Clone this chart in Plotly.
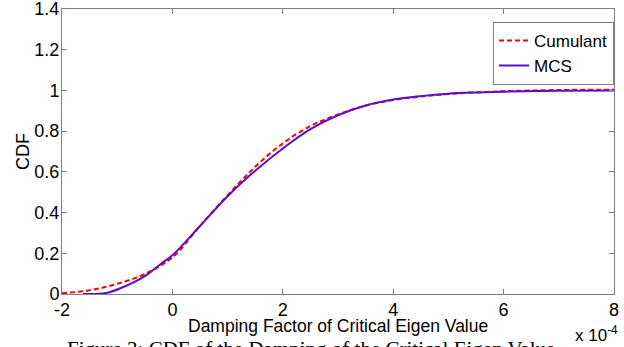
import plotly.graph_objects as go

# Damping factor (units of 1e-4) and CDF values
cum_x = [-2.0, -1.5, -1.0, -0.5, 0.0, 0.5, 1.0, 1.5, 2.0, 2.5, 3.0, 3.5, 4.0, 4.5, 5.0, 5.5, 6.0, 7.0, 8.0]
cum_y = [0.004, 0.018, 0.050, 0.098, 0.180, 0.334, 0.485, 0.625, 0.740, 0.825, 0.882, 0.925, 0.953, 0.970, 0.982, 0.990, 0.996, 1.002, 1.004]

mcs_x = [-1.62, -1.2, -0.9, -0.5, -0.2, 0.0, 0.5, 1.0, 1.5, 2.0, 2.5, 3.0, 3.5, 4.0, 4.5, 5.0, 5.5, 6.0, 7.0, 8.0]
mcs_y = [0.0, 0.005, 0.033, 0.088, 0.150, 0.190, 0.334, 0.480, 0.605, 0.715, 0.810, 0.878, 0.926, 0.955, 0.972, 0.984, 0.990, 0.994, 0.998, 1.000]

x_ticks = [-2, 0, 2, 4, 6, 8]
y_ticks = [0, 0.2, 0.4, 0.6, 0.8, 1, 1.2, 1.4]
y_tick_text = ["0", "0.2", "0.4", "0.6", "0.8", "1", "1.2", "1.4"]

FONT = "Arial, Liberation Sans, sans-serif"

fig = go.Figure()
fig.add_trace(go.Scatter(x=cum_x, y=cum_y, mode="lines", name="Cumulant",
                         line=dict(color="#FF0000", width=2, dash="5px,3px", shape="spline")))
fig.add_trace(go.Scatter(x=mcs_x, y=mcs_y, mode="lines", name="MCS",
                         line=dict(color="#5A0FC8", width=2, shape="spline")))

axis_common = dict(showline=True, linecolor="#808080", linewidth=1, mirror="ticks",
                   ticks="inside", ticklen=5, tickcolor="#808080", showgrid=False,
                   zeroline=False, automargin=False, ticklabeloverflow="allow",
                   tickfont=dict(family=FONT, size=18, color="black"))

fig.update_xaxes(range=[-2, 8], tickvals=x_ticks, ticktext=[str(v) for v in x_ticks],
                 ticklabelstandoff=-1, **axis_common)
fig.update_yaxes(range=[0, 1.4], tickvals=y_ticks, ticktext=y_tick_text,
                 ticklabelstandoff=-2,
                 title=dict(text="CDF", font=dict(family=FONT, size=18, color="black"), standoff=0),
                 **axis_common)

# x-axis title
fig.add_annotation(xref="paper", yref="paper", x=0.5, y=-0.111, xanchor="center", yanchor="middle",
                   text="Damping Factor of Critical Eigen Value", showarrow=False,
                   font=dict(family=FONT, size=17.5, color="black"))
fig.add_annotation(xref="paper", yref="paper", x=1.01, y=-0.095, xanchor="right", yanchor="top",
                   text="x 10<sup>-4</sup>", showarrow=False,
                   font=dict(family=FONT, size=17, color="black"))
fig.add_annotation(xref="paper", yref="paper", x=0.005, y=-0.145, xanchor="left", yanchor="top",
                   text="Figure 3: CDF of the Damping of the Critical Eigen Value", showarrow=False,
                   font=dict(family="Liberation Serif, Times New Roman, serif", size=21, color="black"))

fig.update_layout(
    width=624, height=347,
    margin=dict(l=62, r=10, t=9, b=52.5, autoexpand=False),
    paper_bgcolor="white", plot_bgcolor="white",
    showlegend=True,
    legend=dict(x=1.0, y=0.955, xanchor="right", yanchor="top",
                bordercolor="#808080", borderwidth=1, bgcolor="white",
                font=dict(family=FONT, size=17, color="black"),
                itemwidth=30, tracegroupgap=0),
)

fig.write_html("out.html")
